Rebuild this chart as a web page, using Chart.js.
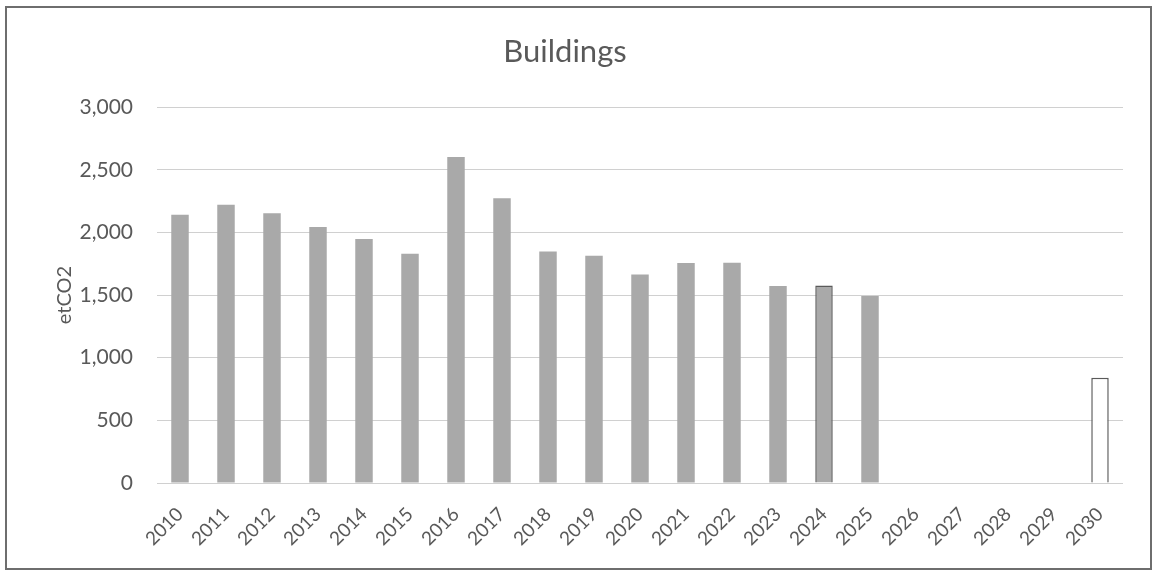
<!DOCTYPE html>
<html>
<head>
<meta charset="utf-8">
<script src="https://cdn.jsdelivr.net/npm/chart.js@4"></script>
<style>
    html, body { margin: 0; padding: 0; background: #ffffff; }
    #cornice {
        position: absolute; left: 5px; top: 6px;
        width: 1143px; height: 560px;
        border: 2px solid #6e6e6e;
    }
    #grafico { display: block; }
</style>
</head>
<body>
<div id="cornice"><canvas id="grafico" width="1143" height="560"></canvas></div>
<script>
// categorie (anni)
const anni = ['2010', '2011', '2012', '2013', '2014', '2015', '2016', '2017', '2018', '2019', '2020',
              '2021', '2022', '2023', '2024', '2025', '2026', '2027', '2028', '2029', '2030'];
// emissioni etCO2 (null = nessun dato)
const emissioni = [2142, 2222, 2153, 2044, 1948, 1830, 2603, 2273, 1849, 1815, 1665,
                   1756, 1759, 1572, 1577, 1492, null, null, null, null, 840];
// tick dell'asse y
const tickY = [0, 500, 1000, 1500, 2000, 2500, 3000];

const grigioTesto = '#595959';
const font = 'Lato, "Open Sans", sans-serif';

const ctx = document.getElementById('grafico').getContext('2d');
new Chart(ctx, {
    type: 'bar',
    data: {
        labels: anni,
        datasets: [{
            label: 'Buildings',
            data: emissioni,
            backgroundColor: c => anni[c.dataIndex] === '2030' ? '#ffffff' : '#a9a9a9',
            borderColor: c => (anni[c.dataIndex] === '2030' || anni[c.dataIndex] === '2024') ? '#5a5a5a' : '#a9a9a9',
            borderWidth: c => (anni[c.dataIndex] === '2030' || anni[c.dataIndex] === '2024') ? 1.5 : 0,
            barPercentage: 0.38,
            categoryPercentage: 1
        }]
    },
    options: {
        responsive: false,
        animation: false,
        layout: { padding: { left: 0, right: 27, top: 0, bottom: 0 } },
        plugins: {
            legend: { display: false },
            tooltip: { enabled: false },
            title: {
                display: true,
                text: 'Buildings',
                color: grigioTesto,
                font: { family: font, size: 31, weight: 'normal' },
                padding: { top: 25, bottom: 37 }
            }
        },
        scales: {
            x: {
                grid: { display: false },
                border: { display: false },
                ticks: {
                    color: grigioTesto,
                    font: { family: font, size: 19 },
                    minRotation: 45,
                    maxRotation: 45,
                    padding: 12
                },
                afterFit: s => { s.height = 85; }
            },
            y: {
                min: 0,
                max: 3000,
                afterBuildTicks: s => { s.ticks = tickY.map(v => ({ value: v })); },
                grid: { color: '#d0d0d0', lineWidth: 1, drawTicks: false },
                border: { display: false },
                ticks: {
                    color: grigioTesto,
                    font: { family: font, size: 21 },
                    padding: 24,
                    callback: v => v.toLocaleString('en-US')
                },
                title: {
                    display: true,
                    text: 'etCO2',
                    color: grigioTesto,
                    font: { family: font, size: 20 },
                    padding: { top: 46, bottom: 0 }
                },
                afterFit: s => { s.width = 150; }
            }
        }
    }
});
</script>
</body>
</html>
